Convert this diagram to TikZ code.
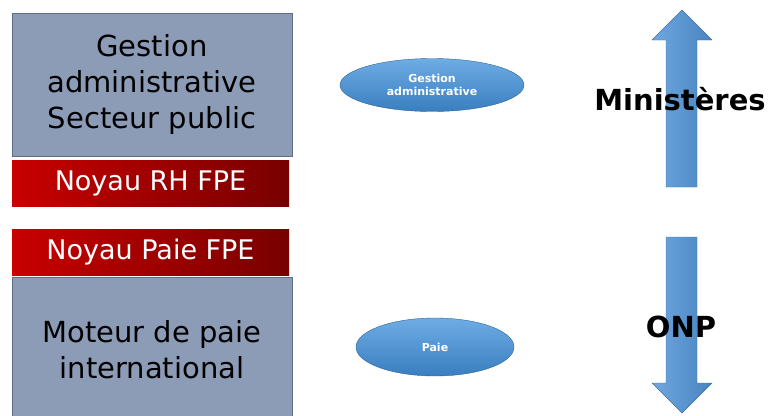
\documentclass[tikz,border=0pt]{standalone}
\usepackage{fontspec}
\setmainfont{DejaVu Sans}
\usepackage{tikz}
\usetikzlibrary{positioning, shapes.geometric}
\definecolor{slate}{RGB}{141,156,182}
\definecolor{slateedge}{RGB}{96,108,130}
\definecolor{redlight}{RGB}{200,0,0}
\definecolor{reddark}{RGB}{120,0,0}
\definecolor{bluetop}{RGB}{110,172,228}
\definecolor{bluebot}{RGB}{58,126,192}
\definecolor{arrowl}{RGB}{112,168,222}
\definecolor{arrowr}{RGB}{72,132,194}
\tikzstyle{bigbox} = [rectangle, draw=slateedge, fill=slate, line width=0.8pt,
  minimum width=280, minimum height=143, align=center,
  font=\fontsize{29}{36}\selectfont]
\tikzstyle{core} = [rectangle, shading=axis, left color=redlight, right color=reddark,
  minimum width=277, minimum height=46, text=white, font=\fontsize{27}{32}\selectfont]
\tikzstyle{oval} = [ellipse, top color=bluetop, bottom color=bluebot, draw=bluebot!80!black,
  line width=0.4pt, text=white, align=center, inner sep=0pt,
  font=\bfseries\fontsize{11}{13.5}\selectfont]
\tikzstyle{flow} = [shading=axis, left color=arrowl, right color=arrowr, draw=arrowr!85!black, line width=0.4pt]
\tikzstyle{side} = [font=\bfseries\fontsize{29}{34}\selectfont, anchor=base]

\begin{document}
\begin{tikzpicture}[x=1pt, y=-1pt]
    \useasboundingbox (0,0) rectangle (768,415);
    \node[bigbox] (gest) at (152,84.5) {Gestion\\administrative\\Secteur public};
    \node[core, below=4pt of gest, xshift=-1.5pt] (rh) {Noyau RH FPE};
    \node[core, below=22pt of rh] (paie) {Noyau Paie FPE};
    \node[bigbox, below=2pt of paie, xshift=1.5pt, minimum height=145] (moteur) {Moteur de paie\\international};
    \node[oval, minimum width=184, minimum height=53] (ogest) at (432,85) {Gestion\\administrative};
    \node[oval, minimum width=158, minimum height=58] (opaie) at (435,347) {Paie};
    % fleches laterales
    \path[flow] (666,187) -- (666,40) -- (652,40) -- (682,10) -- (712,40) -- (697,40) -- (697,187) -- cycle;
    \path[flow] (666,237) -- (697,237) -- (697,383) -- (712,383) -- (682,413) -- (652,383) -- (666,383) -- cycle;
    \node[side] (mini) at (680,110) {Ministères};
    \node[side] (onp) at (681,337) {ONP};
\end{tikzpicture}
\end{document}
